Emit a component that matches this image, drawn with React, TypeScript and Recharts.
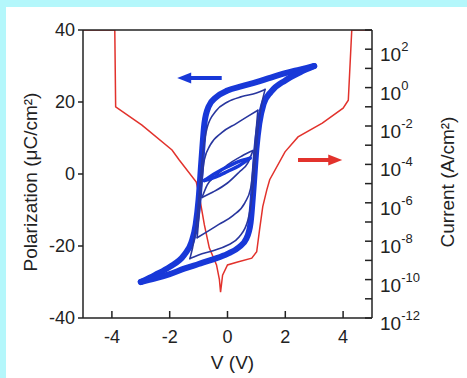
import { ComposedChart, Line, XAxis, YAxis, ReferenceLine, ReferenceDot } from 'recharts';

// polarization loops, each split into the down sweep and the up sweep
const outerDownV = [3, 2.5, 2, 1.5, 1, 0.5, 0, -0.4, -0.65, -0.8, -0.9, -1.0, -1.1, -1.25, -1.5, -2, -2.5, -3];
const outerDownP = [30, 29, 28, 26.8, 25.5, 24.4, 23.2, 21.3, 18.8, 14, 4, -7, -14, -19, -22.5, -25.8, -28, -30];
const outerUpV = [-3, -2.5, -2, -1.5, -1, -0.5, 0, 0.4, 0.65, 0.8, 0.9, 1.0, 1.1, 1.25, 1.5, 2, 2.5, 3];
const outerUpP = [-30, -29, -27.8, -26.3, -25, -23.7, -22.2, -20.3, -18, -13.5, -4, 7, 14, 19.5, 22.8, 26, 28.2, 30];

const loop4DownV = [1.3, 1, 0.5, 0, -0.4, -0.7, -0.85, -0.95, -1.05, -1.15, -1.3];
const loop4DownP = [23.5, 22.5, 21.5, 20, 17.5, 13, 6, -3, -12, -18, -23.5];
const loop4UpV = [-1.3, -1, -0.5, 0, 0.4, 0.7, 0.85, 0.95, 1.05, 1.15, 1.3];
const loop4UpP = [-23.5, -22.5, -21.3, -19.8, -17.5, -13, -6, 3, 12, 18, 23.5];

const loop3DownV = [1.05, 0.7, 0.3, -0.2, -0.6, -0.8, -0.9, -0.97, -1.05];
const loop3DownP = [17.7, 16, 14, 11.5, 8, 4, -3, -10, -17.7];
const loop3UpV = [-1.05, -0.7, -0.3, 0.2, 0.6, 0.8, 0.9, 0.97, 1.05];
const loop3UpP = [-17.7, -16, -14, -11.5, -8, -4, 3, 10, 17.7];

const loop2DownV = [0.88, 0.5, 0, -0.4, -0.7, -0.88];
const loop2DownP = [6.5, 5, 2.5, -0.5, -3, -6.5];
const loop2UpV = [-0.88, -0.5, 0, 0.4, 0.7, 0.88];
const loop2UpP = [-6.5, -5, -2.5, 0.5, 3, 6.5];

const loop1DownV = [0.78, 0.4, 0, -0.4, -0.8];
const loop1DownP = [4.4, 3.5, 2, 0.3, -1.8];
const loop1UpV = [-0.8, -0.4, 0, 0.4, 0.78];
const loop1UpP = [-1.8, -0.8, 0.7, 2.3, 4.4];

// leakage current (A/cm2)
const currentV = [-5, -3.9, -3.87, -2.96, -1.92, -1.67, -1.08, -0.98, -0.8, -0.63, -0.38, -0.28, -0.24, -0.17, 0, 0.35, 0.84, 1.01, 1.11, 1.22, 1.36, 1.46, 1.99, 2.44, 3.28, 4.0, 4.18, 4.3, 5];
const currentI = [1e3, 1e3, 1e-1, 1.1e-2, 5.6e-4, 1.7e-4, 1.2e-5, 2.5e-6, 7e-8, 4.5e-9, 5.8e-10, 1e-10, 2.2e-11, 1.7e-10, 5.8e-10, 8.3e-10, 1.3e-9, 2.8e-9, 4e-8, 6.3e-7, 4.7e-6, 1.6e-5, 4.5e-4, 2.7e-3, 1.4e-2, 8.5e-2, 0.22, 1e3, 1e3];

const vTicks = [-4, -2, 0, 2, 4];
const pTicks = [-40, -20, 0, 20, 40];
const iTicks = [1e-12, 1e-11, 1e-10, 1e-9, 1e-8, 1e-7, 1e-6, 1e-5, 1e-4, 1e-3, 1e-2, 1e-1, 1, 1e1, 1e2, 1e3];

const BLUE = '#1838d8';
const DARK_BLUE = '#28369e';
const RED = '#e2322c';
const INK = '#222';
const FONT = '"Liberation Sans", Arial, sans-serif';

const rows = (vs: number[], ps: number[]) => vs.map((v, i) => ({ v, p: ps[i] }));

const branches = [
  { key: 'outerDown', data: rows(outerDownV, outerDownP), color: BLUE, width: 6 },
  { key: 'outerUp', data: rows(outerUpV, outerUpP), color: BLUE, width: 6 },
  { key: 'loop4Down', data: rows(loop4DownV, loop4DownP), color: DARK_BLUE, width: 1.6 },
  { key: 'loop4Up', data: rows(loop4UpV, loop4UpP), color: DARK_BLUE, width: 1.6 },
  { key: 'loop3Down', data: rows(loop3DownV, loop3DownP), color: DARK_BLUE, width: 1.6 },
  { key: 'loop3Up', data: rows(loop3UpV, loop3UpP), color: DARK_BLUE, width: 1.6 },
  { key: 'loop2Down', data: rows(loop2DownV, loop2DownP), color: DARK_BLUE, width: 1.6 },
  { key: 'loop2Up', data: rows(loop2UpV, loop2UpP), color: DARK_BLUE, width: 1.6 },
  { key: 'loop1Down', data: rows(loop1DownV, loop1DownP), color: BLUE, width: 3.5 },
  { key: 'loop1Up', data: rows(loop1UpV, loop1UpP), color: BLUE, width: 3.5 },
];

const currentData = currentV.map((v, i) => ({ v, i: currentI[i] }));

const PowerTick = (props: any) => {
  const { x, y, payload } = props;
  const exp = Math.round(Math.log10(payload.value));
  if (exp % 2 !== 0) return null;
  return (
    <text x={x} y={y + 12} fill={INK} fontSize={19} fontFamily={FONT}>
      10
      <tspan dy={-10} fontSize={13}>
        {exp}
      </tspan>
    </text>
  );
};

const arrowHead = (color: string, dir: number) => (props: any) => {
  const { cx, cy } = props;
  const len = 14;
  const half = 5.5;
  return (
    <polygon
      points={`${cx},${cy} ${cx - dir * len},${cy - half} ${cx - dir * len},${cy + half}`}
      fill={color}
    />
  );
};

export default function App() {
  return (
    <div style={{ position: 'absolute', left: 0, top: 0, width: 467, height: 378, background: '#b4f7fb' }}>
      <div style={{ position: 'absolute', left: 6, top: 7, width: 461, height: 371, background: '#fff' }} />
      <div style={{ position: 'absolute', left: 0, top: 0 }}>
        <ComposedChart
          width={467}
          height={378}
          margin={{ top: 29, right: 8, bottom: 8, left: 8 }}
          style={{ fontFamily: FONT }}
        >
          <XAxis
            dataKey="v"
            type="number"
            domain={[-5, 5]}
            ticks={vTicks}
            interval={0}
            allowDataOverflow
            height={52}
            tickSize={-7}
            tickMargin={19}
            stroke={INK}
            strokeWidth={1.5}
            tick={{ fill: INK, fontSize: 18 }}
            label={{ value: 'V (V)', position: 'insideBottom', offset: 1, dx: 5, fill: INK, fontSize: 19 }}
          />
          <XAxis
            xAxisId="top"
            orientation="top"
            dataKey="v"
            type="number"
            domain={[-5, 5]}
            height={1}
            tick={false}
            tickLine={false}
            stroke={INK}
            strokeWidth={1.5}
          />
          <YAxis
            yAxisId="left"
            type="number"
            domain={[-40, 40]}
            ticks={pTicks}
            interval={0}
            allowDataOverflow
            width={75}
            tickSize={5}
            tickMargin={3}
            stroke={INK}
            strokeWidth={1.5}
            tick={{ fill: INK, fontSize: 18 }}
            label={{ value: 'Polarization (μC/cm²)', angle: -90, position: 'center', dx: -15, dy: 8, fill: INK, fontSize: 19 }}
          />
          <YAxis
            yAxisId="right"
            orientation="right"
            scale="log"
            type="number"
            domain={[1e-12, 1e3]}
            ticks={iTicks}
            interval={0}
            allowDataOverflow
            width={87}
            tickSize={-7}
            tickMargin={15}
            stroke={INK}
            strokeWidth={1.5}
            tick={PowerTick}
            label={{ value: 'Current (A/cm²)', angle: -90, position: 'center', dx: 32, dy: 8, fill: INK, fontSize: 19 }}
          />
          <Line
            yAxisId="right"
            data={currentData}
            dataKey="i"
            type="linear"
            stroke={RED}
            strokeWidth={1.5}
            dot={false}
            activeDot={false}
            isAnimationActive={false}
          />
          {branches.map((b) => (
            <Line
              key={b.key}
              yAxisId="left"
              data={b.data}
              dataKey="p"
              type="monotone"
              stroke={b.color}
              strokeWidth={b.width}
              strokeLinejoin="round"
              strokeLinecap="round"
              dot={false}
              activeDot={false}
              isAnimationActive={false}
            />
          ))}
          <ReferenceLine
            yAxisId="left"
            segment={[{ x: -1.35, y: 26.7 }, { x: -0.2, y: 26.7 }]}
            stroke={BLUE}
            strokeWidth={4}
          />
          <ReferenceDot yAxisId="left" x={-1.74} y={26.7} shape={arrowHead(BLUE, -1)} />
          <ReferenceLine
            yAxisId="left"
            segment={[{ x: 2.44, y: 3.9 }, { x: 3.55, y: 3.9 }]}
            stroke={RED}
            strokeWidth={4}
          />
          <ReferenceDot yAxisId="left" x={3.97} y={3.9} shape={arrowHead(RED, 1)} />
        </ComposedChart>
      </div>
    </div>
  );
}
